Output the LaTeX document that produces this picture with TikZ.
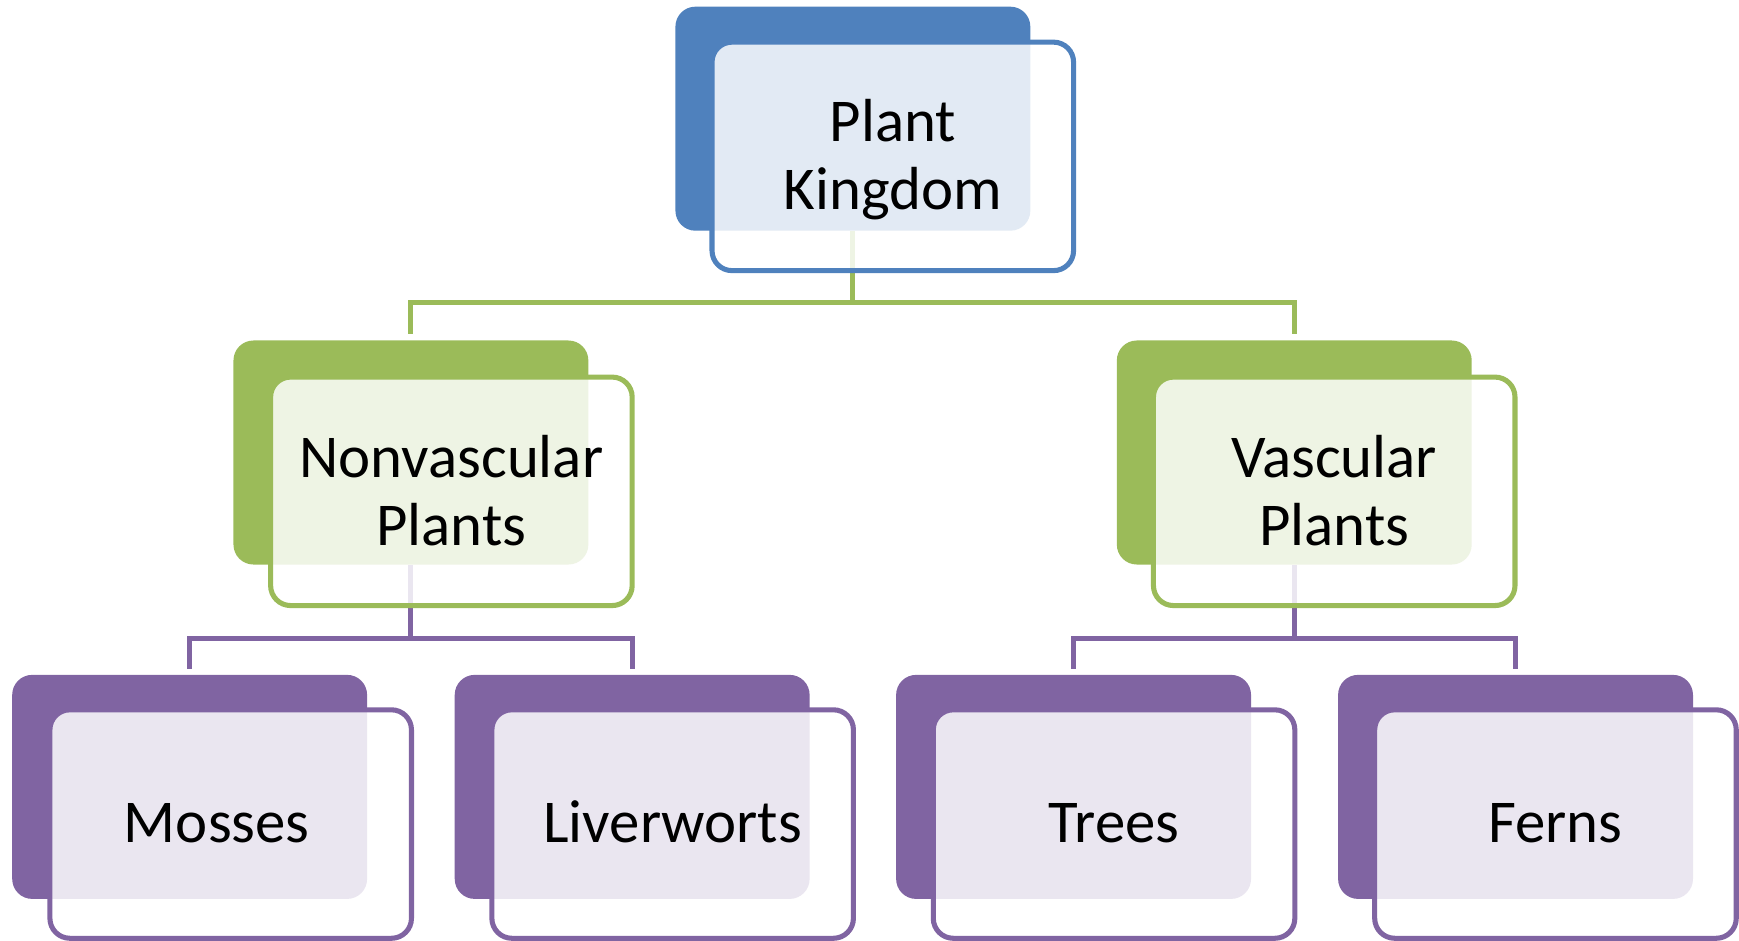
\documentclass[tikz,border=0pt]{standalone}
\usepackage{fontspec}
\setmainfont{Carlito}
\definecolor{cblue}{HTML}{4F81BD}
\definecolor{cgreen}{HTML}{9BBB59}
\definecolor{cpurple}{HTML}{8064A2}
\begin{document}
\begin{tikzpicture}[x=1cm,y=-1cm,
  back/.style={rectangle, rounded corners=0.18cm, fill=#1, minimum width=3.20cm, minimum height=2.02cm, inner sep=0pt},
  front/.style={rectangle, rounded corners=0.18cm, draw=#1, line width=1.3pt, fill=white, fill opacity=0.84, minimum width=3.26cm, minimum height=2.06cm, inner sep=0pt},
  conn/.style={draw=#1, line width=1.3pt, shorten >=0.05cm},
  lbl/.style={font=\fontsize{15.6}{17.4}\selectfont, align=center, inner sep=0pt, text=black}
]
\useasboundingbox (0,0) rectangle (15.68,8.48);
% back boxes
\node[back=cblue]   (pkB) at (7.69,1.07) {};
\node[back=cgreen]  (nvB) at (3.705,4.08) {};
\node[back=cgreen]  (vaB) at (11.67,4.08) {};
\node[back=cpurple] (moB) at (1.71,7.095) {};
\node[back=cpurple] (liB) at (5.70,7.095) {};
\node[back=cpurple] (trB) at (9.68,7.095) {};
\node[back=cpurple] (feB) at (13.665,7.095) {};
% connectors
\draw[conn=cgreen] (pkB.south) -- ++(0,0.64) -| (nvB.north);
\draw[conn=cgreen] (pkB.south) -- ++(0,0.64) -| (vaB.north);
\draw[conn=cpurple] (nvB.south) -- ++(0,0.66) -| (moB.north);
\draw[conn=cpurple] (nvB.south) -- ++(0,0.66) -| (liB.north);
\draw[conn=cpurple] (vaB.south) -- ++(0,0.66) -| (trB.north);
\draw[conn=cpurple] (vaB.south) -- ++(0,0.66) -| (feB.north);
% front boxes
\node[front=cblue]   (pkF) at (8.05,1.41) {};
\node[front=cgreen]  (nvF) at (4.07,4.43) {};
\node[front=cgreen]  (vaF) at (12.03,4.43) {};
\node[front=cpurple] (moF) at (2.08,7.43) {};
\node[front=cpurple] (liF) at (6.065,7.43) {};
\node[front=cpurple] (trF) at (10.045,7.43) {};
\node[front=cpurple] (feF) at (14.025,7.43) {};
% texts
\node[lbl] (pkT) at (8.05,1.44) {Plant\\Kingdom};
\node[lbl] (nvT) at (4.07,4.42) {Nonvascular\\Plants};
\node[lbl] (vaT) at (12.03,4.42) {Vascular\\Plants};
\node[lbl, anchor=base] (moT) at (1.955,7.60) {Mosses};
\node[lbl, anchor=base] (liT) at (6.065,7.60) {Liverworts};
\node[lbl, anchor=base] (trT) at (10.045,7.60) {Trees};
\node[lbl, anchor=base] (feT) at (14.025,7.60) {Ferns};
\end{tikzpicture}
\end{document}
